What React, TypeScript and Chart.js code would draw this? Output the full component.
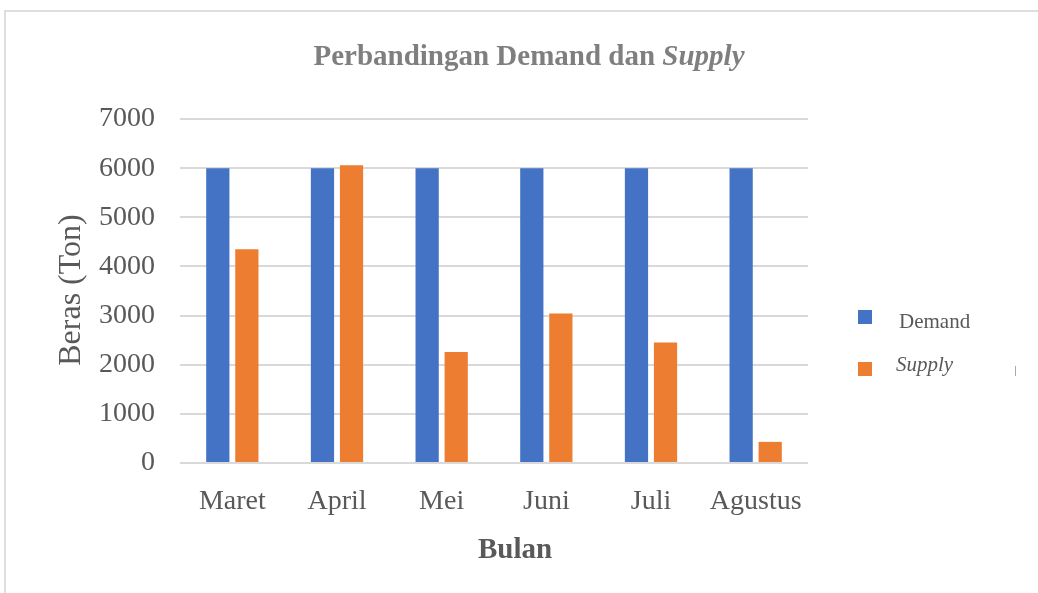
import React, { useEffect, useRef } from "react";
import { Chart, registerables } from "chart.js";

Chart.register(...registerables);

const categories = ["Maret", "April", "Mei", "Juni", "Juli", "Agustus"];
const demandValues = [6000, 6000, 6000, 6000, 6000, 6000];
const supplyValues = [4350, 6060, 2260, 3040, 2450, 430];
const yTicks = [0, 1000, 2000, 3000, 4000, 5000, 6000, 7000];

const SERIF = "'Liberation Serif', 'Times New Roman', serif";
const TEXT = "#595959";

const textPlugin = {
  id: "textPlugin",
  afterDraw(chart: any) {
    const ctx = chart.ctx as CanvasRenderingContext2D;
    ctx.save();
    // Title with mixed fonts
    const part1 = "Perbandingan Demand dan ";
    const part2 = "Supply";
    const f1 = `bold 29px ${SERIF}`;
    const f2 = `italic bold 29px ${SERIF}`;
    ctx.font = f1;
    const w1 = ctx.measureText(part1).width;
    ctx.font = f2;
    const w2 = ctx.measureText(part2).width;
    const cx = 529;
    const x = cx - (w1 + w2) / 2;
    ctx.fillStyle = "#7f7f7f";
    ctx.textBaseline = "middle";
    ctx.textAlign = "left";
    ctx.font = f1;
    ctx.fillText(part1, x, 58);
    ctx.font = f2;
    ctx.fillText(part2, x + w1, 58);

    // Y axis title
    ctx.fillStyle = TEXT;
    ctx.font = `32px ${SERIF}`;
    ctx.textAlign = "center";
    ctx.save();
    ctx.translate(72, 290);
    ctx.rotate(-Math.PI / 2);
    ctx.fillText("Beras (Ton)", 0, 0);
    ctx.restore();

    // X axis title
    ctx.font = `bold 29px ${SERIF}`;
    ctx.fillText("Bulan", 515, 551);

    // Legend
    const items = [
      { label: "Demand", color: "#4472C4", italic: false, sy: 317, tx: 899, ty: 322 },
      { label: "Supply", color: "#ED7D31", italic: true, sy: 369, tx: 896, ty: 365 },
    ];
    ctx.textAlign = "left";
    for (const it of items) {
      ctx.fillStyle = it.color;
      ctx.fillRect(858, it.sy - 7, 14, 14);
      ctx.fillStyle = TEXT;
      ctx.font = `${it.italic ? "italic " : ""}21px ${SERIF}`;
      ctx.fillText(it.label, it.tx, it.ty);
    }
    ctx.strokeStyle = "#aaaaaa";
    ctx.lineWidth = 1;
    ctx.beginPath();
    ctx.moveTo(1015.5, 366);
    ctx.lineTo(1015.5, 376);
    ctx.stroke();
    ctx.restore();
  },
};

export default function App() {
  const ref = useRef<HTMLCanvasElement>(null);
  useEffect(() => {
    if (!ref.current) return;
    const chart = new Chart(ref.current, {
      type: "bar",
      data: {
        labels: categories,
        datasets: [
          { label: "Demand", data: demandValues, backgroundColor: "#4472C4" },
          { label: "Supply", data: supplyValues, backgroundColor: "#ED7D31" },
        ],
      },
      options: {
        responsive: false,
        animation: false,
        devicePixelRatio: 1,
        layout: { padding: { left: 0, top: 119, right: 230, bottom: 0 } },
        datasets: { bar: { categoryPercentage: 0.555, barPercentage: 0.8 } },
        plugins: { legend: { display: false }, title: { display: false }, tooltip: { enabled: false } },
        scales: {
          x: {
            grid: { display: false },
            border: { display: false },
            ticks: { color: TEXT, font: { family: SERIF, size: 28 }, padding: 14, maxRotation: 0 },
            afterFit: (s: any) => { s.height = 130; },
          },
          y: {
            min: 0,
            max: 7000,
            afterBuildTicks: (s: any) => { s.ticks = yTicks.map((v) => ({ value: v })); },
            grid: { color: "#d9d9d9", lineWidth: 2, drawTicks: false },
            border: { display: false },
            ticks: {
              color: TEXT,
              font: { family: SERIF, size: 28 },
              padding: 25,
              callback: (v: any) => String(v),
            },
            afterFit: (s: any) => { s.width = 180; },
          },
        },
      },
      plugins: [textPlugin],
    });
    return () => chart.destroy();
  }, []);
  return (
    <div style={{ position: "fixed", left: 0, top: 0, width: 1038, height: 593, overflow: "hidden", background: "#fff" }}>
      <div style={{ position: "absolute", left: 4, top: 10, width: 1200, height: 800, border: "2px solid #dedede" }} />
      <canvas ref={ref} width={1038} height={593} style={{ position: "absolute", left: 0, top: 0, width: 1038, height: 593 }} />
    </div>
  );
}
